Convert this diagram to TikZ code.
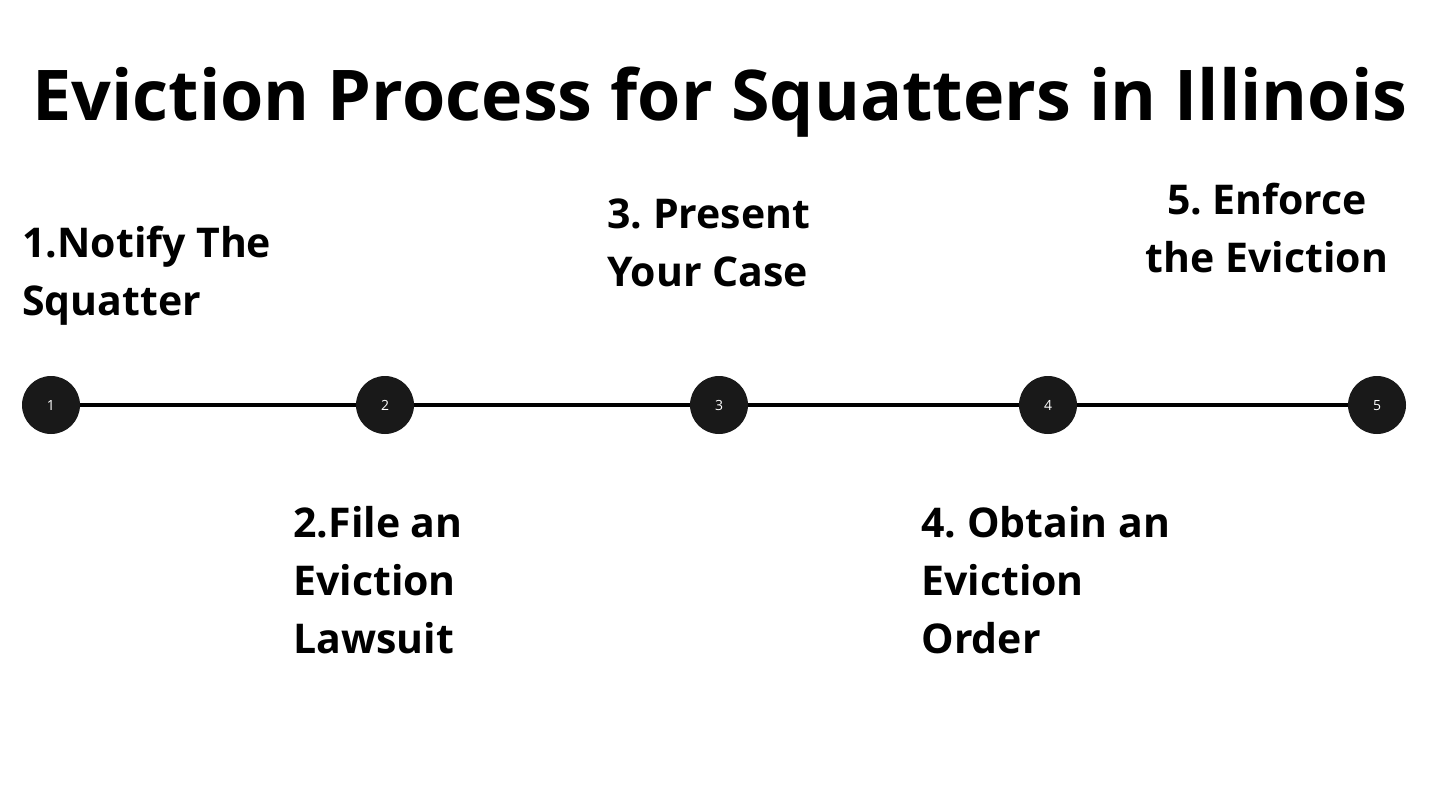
\documentclass[tikz,border=0pt]{standalone}
\usepackage{fontspec}
\setmainfont{Open Sans}
\frenchspacing
\begin{document}
\begin{tikzpicture}[x=0.5pt,y=-0.5pt,
  dot/.style={circle,fill=black!90,minimum size=29pt,inner sep=0pt,text=white,text height=5pt,text depth=0pt,font=\fontsize{7}{8}\selectfont},
  lbl/.style={inner sep=0pt,font=\bfseries\fontsize{20.5}{29}\selectfont},
  ln/.style={line width=1.6pt}]
\useasboundingbox (0,0) rectangle (1440,810);
\node[font=\bfseries\fontsize{35}{42}\selectfont] (title) at (720,102) {Eviction Process for Squatters in Illinois};
\foreach \i/\x in {1/51,2/385,3/719,4/1048,5/1377}{\node[dot] (d\i) at (\x,405) {\i};}
\draw[ln] (d1) -- (d2); \draw[ln] (d2) -- (d3); \draw[ln] (d3) -- (d4); \draw[ln] (d4) -- (d5);
\node[lbl,anchor=north west,align=left] (s1) at (22,226) {1.Notify The\\Squatter};
\node[lbl,anchor=north west,align=left] (s2) at (293,506) {2.File an\\Eviction\\Lawsuit};
\node[lbl,anchor=north west,align=left] (s3) at (607,198) {3. Present\\Your Case};
\node[lbl,anchor=north west,align=left] (s4) at (921,506) {4. Obtain an\\Eviction\\Order};
\node[lbl,anchor=north,align=center] (s5) at (1267,183) {5. Enforce\\the Eviction};
\end{tikzpicture}
\end{document}
